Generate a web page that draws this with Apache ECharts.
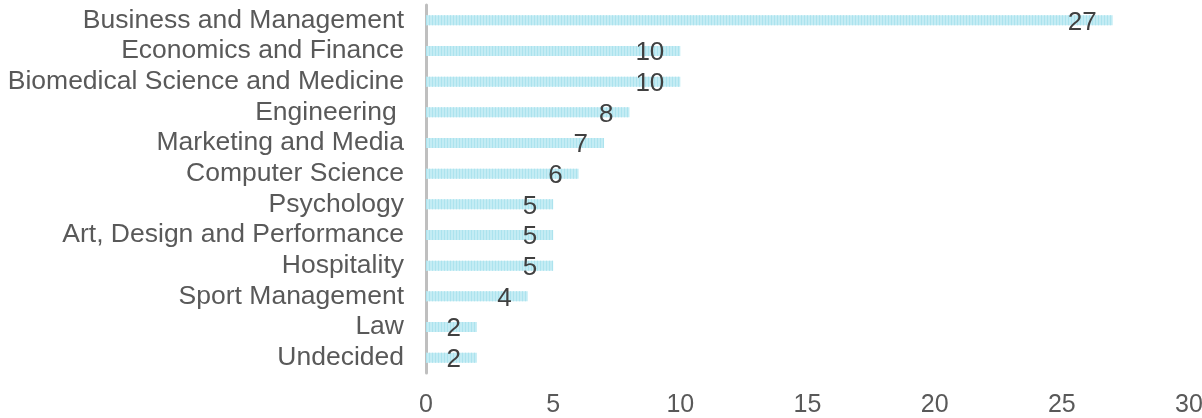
<!DOCTYPE html>
<html><head><meta charset="utf-8">
<script src="https://cdn.jsdelivr.net/npm/echarts@6/dist/echarts.min.js"></script>
<style>html,body{margin:0;padding:0;background:#fff}#c{width:1202px;height:418px}</style>
</head><body><div id="c"></div>
<script>
var categories = ["Business and Management","Economics and Finance","Biomedical Science and Medicine","Engineering ","Marketing and Media","Computer Science","Psychology","Art, Design and Performance","Hospitality","Sport Management","Law","Undecided"];
var values = [27,10,10,8,7,6,5,5,5,4,2,2];
var xTicks = [0,5,10,15,20,25,30];
var chart = echarts.init(document.getElementById('c'));
chart.setOption({
  animation:false,
  grid:{left:426,right:13,top:5,bottom:45,containLabel:false,outerBoundsMode:'none'},
  xAxis:{type:'value',min:0,max:30,interval:5,
    axisLine:{show:false},axisTick:{show:false},splitLine:{show:false},
    axisLabel:{fontSize:25,color:'#595959',fontFamily:'Liberation Sans, Arial',margin:20,
      formatter:function(v){return xTicks.indexOf(v)>=0?String(v):'';}}},
  yAxis:{type:'category',data:categories,inverse:true,
    axisLine:{lineStyle:{color:'#bfbfbf',width:3}},axisTick:{show:false},
    axisLabel:{interval:0,fontSize:26.5,color:'#595959',fontFamily:'Liberation Sans, Arial',margin:22}},
  series:[{type:'bar',data:values,barWidth:10,
    itemStyle:{color:'#c4ecf4',decal:{symbol:'rect',symbolSize:1,dashArrayX:[1,2],dashArrayY:[10,0],color:'#ace3ee'}},
    label:{show:true,position:'insideRight',distance:16,offset:[0,2],fontSize:26,color:'#404040',fontFamily:'Liberation Sans, Arial'}}]
});
</script></body></html>
